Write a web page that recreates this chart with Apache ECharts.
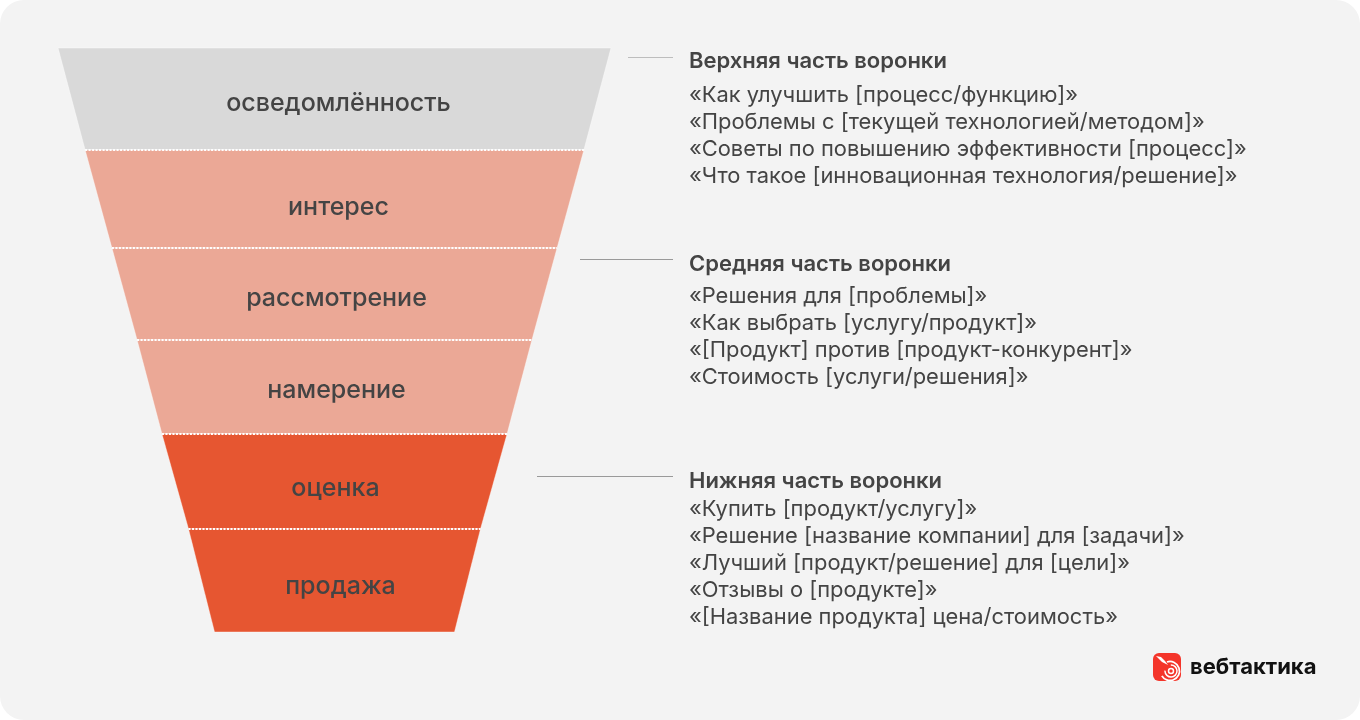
<!DOCTYPE html>
<html>
<head>
<meta charset="utf-8">
<title>Воронка</title>
<script src="https://cdn.jsdelivr.net/npm/echarts@6/dist/echarts.min.js"></script>
<style>
html, body { margin: 0; padding: 0; background: #fff; }
#main { width: 1360px; height: 720px; background: #f3f3f3; border-radius: 24px; overflow: hidden; }
</style>
</head>
<body>
<div id="main"></div>
<script>
// этапы воронки
var stages = ['осведомлённость', 'интерес', 'рассмотрение', 'намерение', 'оценка', 'продажа'];
// ширина верхнего края этапа, % от самого широкого
var stageValues = [100, 90.2, 80.5, 71.4, 62.4, 52.8];
var bottomValue = 43.4;

var topTitle = 'Верхняя часть воронки';
var topQueries = [
  '«Как улучшить [процесс/функцию]»',
  '«Проблемы с [текущей технологией/методом]»',
  '«Советы по повышению эффективности [процесс]»',
  '«Что такое [инновационная технология/решение]»'
];
var midTitle = 'Средняя часть воронки';
var midQueries = [
  '«Решения для [проблемы]»',
  '«Как выбрать [услугу/продукт]»',
  '«[Продукт] против [продукт-конкурент]»',
  '«Стоимость [услуги/решения]»'
];
var lowTitle = 'Нижняя часть воронки';
var lowQueries = [
  '«Купить [продукт/услугу]»',
  '«Решение [название компании] для [задачи]»',
  '«Лучший [продукт/решение] для [цели]»',
  '«Отзывы о [продукте]»',
  '«[Название продукта] цена/стоимость»'
];
var brand = 'вебтактика';

var FONT = 'Inter, "Noto Sans", sans-serif';
var stageColors = ['#d9d9d9', '#eba896', '#eba896', '#eba896', '#e65631', '#e65631'];
var stageHeights = [102, 98, 92, 94, 95, 103];
var labelOffsets = [[4, 4], [4, 8], [2, 4], [2, 3], [1, 7], [6, 6]];

var FUNNEL_LEFT = 58, FUNNEL_TOP = 48, FUNNEL_HEIGHT = 584, MIN_SIZE = 240, MAX_SIZE = 553;

var funnelData = [];
for (var i = 0; i < stages.length; i++) {
  funnelData.push({
    name: stages[i],
    value: stageValues[i],
    itemStyle: { color: stageColors[i], height: stageHeights[i] }
  });
}

var graphics = [];

function addTitle(text, y) {
  graphics.push({
    type: 'text', x: 689, y: y, silent: true,
    style: { text: text, font: '600 22px ' + FONT, fill: '#444444', verticalAlign: 'middle' }
  });
}
function addQueries(list, y) {
  for (var i = 0; i < list.length; i++) {
    graphics.push({
      type: 'text', x: 689, y: y + i * 27, silent: true,
      style: { text: list[i], font: '400 21.9px ' + FONT, fill: '#444444', verticalAlign: 'middle' }
    });
  }
}
function addLeader(x, y, color) {
  graphics.push({
    type: 'line', silent: true,
    shape: { x1: x, y1: y, x2: 673, y2: y },
    style: { stroke: color, lineWidth: 1 }
  });
}

addLeader(628, 57.5, '#bdbdbd');
addTitle(topTitle, 61);
addQueries(topQueries, 95);
addLeader(580, 259.5, '#999999');
addTitle(midTitle, 264);
addQueries(midQueries, 296);
addLeader(537, 476.5, '#999999');
addTitle(lowTitle, 481);
addQueries(lowQueries, 509);

// точечные линии между этапами
var sepY = FUNNEL_TOP;
var funnelCenter = FUNNEL_LEFT + MAX_SIZE / 2;
for (var j = 1; j < stages.length; j++) {
  sepY += stageHeights[j - 1];
  var halfWidth = echarts.number.linearMap(stageValues[j], [bottomValue, 100], [MIN_SIZE, MAX_SIZE], true) / 2;
  graphics.push({
    type: 'line', silent: true, z: 10,
    shape: { x1: funnelCenter - halfWidth, y1: sepY, x2: funnelCenter + halfWidth, y2: sepY },
    style: { stroke: '#ffffff', lineWidth: 2, lineDash: [2, 1.5] }
  });
}

// логотип
graphics.push({
  type: 'rect', silent: true,
  shape: { x: 1153, y: 653, width: 28, height: 28, r: 6 },
  style: { fill: '#f4352a' }
});
graphics.push({
  type: 'arc', silent: true,
  shape: { cx: 1170, cy: 671, r: 9.5, startAngle: -1.9, endAngle: 2.6 },
  style: { stroke: '#ffffff', lineWidth: 1.8, fill: null }
});
graphics.push({
  type: 'arc', silent: true,
  shape: { cx: 1171, cy: 671, r: 6, startAngle: -1.6, endAngle: 3.2 },
  style: { stroke: '#ffffff', lineWidth: 1.5, fill: null }
});
graphics.push({
  type: 'arc', silent: true,
  shape: { cx: 1171, cy: 671, r: 2.5, startAngle: 0, endAngle: 6.28 },
  style: { stroke: '#ffffff', lineWidth: 1.5, fill: null }
});
graphics.push({
  type: 'polygon', silent: true,
  shape: { points: [[1156, 656], [1161, 657], [1165, 661], [1168, 665], [1162, 662]] },
  style: { fill: '#ffffff' }
});
graphics.push({
  type: 'text', x: 1190, y: 667, silent: true,
  style: { text: brand, font: '700 22px ' + FONT, fill: '#111111', verticalAlign: 'middle' }
});

var chart = echarts.init(document.getElementById('main'));
chart.setOption({
  animation: false,
  graphic: graphics,
  series: [{
    type: 'funnel',
    silent: true,
    sort: 'none',
    left: FUNNEL_LEFT,
    top: FUNNEL_TOP,
    width: MAX_SIZE,
    height: FUNNEL_HEIGHT,
    gap: 0,
    min: bottomValue,
    max: 100,
    minSize: MIN_SIZE,
    maxSize: MAX_SIZE,
    label: { position: 'inside', color: '#444444', fontFamily: FONT, fontSize: 25, fontWeight: 500 },
    labelLine: { show: false },
    labelLayout: function (params) {
      return { dx: labelOffsets[params.dataIndex][0], dy: labelOffsets[params.dataIndex][1] };
    },
    itemStyle: { borderColor: 'rgba(255,255,255,0.4)', borderWidth: 1 },
    data: funnelData
  }]
});
</script>
</body>
</html>
